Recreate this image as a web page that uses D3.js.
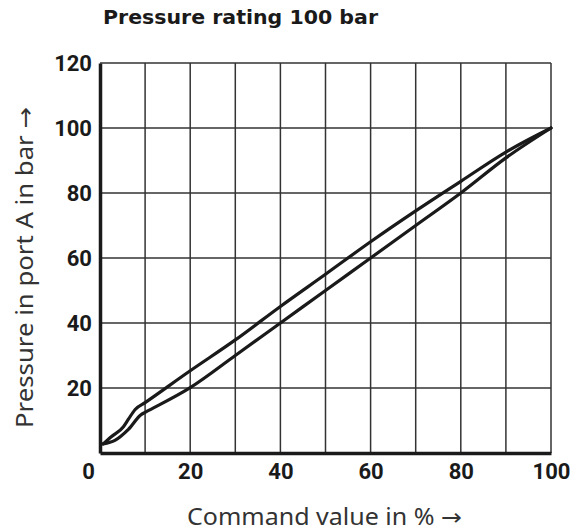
<!DOCTYPE html>
<html>
<head>
<meta charset="utf-8">
<script src="https://cdn.jsdelivr.net/npm/d3@7"></script>
<style>
  body { margin: 0; background: #fff; }
  svg { display: block; }
</style>
</head>
<body>
<div id="chart"></div>
<script>
// chart values
const xTicks = [0, 20, 40, 60, 80, 100]
const yTicks = [20, 40, 60, 80, 100, 120]
const upperCmd = [0.7, 2.5, 5.2, 6.3, 7.8, 10, 20, 30, 40, 50, 60, 70, 80, 90, 100]
const upperBar = [2.8, 5.0, 8.1, 10.4, 13.4, 15.5, 25.3, 34.8, 45.1, 55, 65, 74.5, 83.6, 92.6, 100]
const lowerCmd = [0.7, 3.3, 6.3, 9.2, 10, 20, 30, 40, 50, 60, 70, 80, 90, 100]
const lowerBar = [2.8, 3.9, 7.3, 11.9, 12.5, 20.1, 30, 40, 50, 60, 70, 80, 90.8, 100]

const title = 'Pressure rating 100 bar'
const xTitle = 'Command value in % '
const yTitle = 'Pressure in port A in bar '
const arrow = '\u2192'

const width = 578
const height = 532
const padding = { top: 63, right: 27, bottom: 79, left: 100 }
const tickFont = '"Liberation Sans Narrow", "Arial Narrow", Roboto, sans-serif'

const svg = d3.select('#chart').append('svg').attr('width', width).attr('height', height)

const xScale = d3.scaleLinear()
  .domain([0, 100])
  .range([padding.left, width - padding.right])
const yScale = d3.scaleLinear()
  .domain([0, 120])
  .range([height - padding.bottom, padding.top])

// grid
const grid = svg.append('g').attr('stroke', '#333').attr('stroke-width', 1.5)
grid.selectAll('.vg')
  .data(d3.range(10, 101, 10))
  .enter()
  .append('line')
  .attr('x1', d => xScale(d)).attr('x2', d => xScale(d))
  .attr('y1', yScale(0)).attr('y2', yScale(120))
grid.selectAll('.hg')
  .data(yTicks)
  .enter()
  .append('line')
  .attr('x1', xScale(0)).attr('x2', xScale(100))
  .attr('y1', d => yScale(d)).attr('y2', d => yScale(d))

// curves
const line = d3.line()
  .x(d => xScale(d[0]))
  .y(d => yScale(d[1]))
  .curve(d3.curveMonotoneX)

const upperData = upperCmd.map((c, i) => [c, upperBar[i]])
const lowerData = lowerCmd.map((c, i) => [c, lowerBar[i]])

svg.append('g')
  .selectAll('path')
  .data([upperData, lowerData])
  .enter()
  .append('path')
  .attr('fill', 'none')
  .attr('stroke', '#1a1a1a')
  .attr('stroke-width', 3.2)
  .attr('stroke-linejoin', 'round')
  .attr('stroke-linecap', 'round')
  .attr('d', d => line(d))

// thick left and bottom axes
const xAxis = svg.append('g')
  .attr('transform', 'translate(0,' + yScale(0) + ')')
  .call(d3.axisBottom(xScale).tickValues(xTicks).tickSize(0).tickPadding(10))
xAxis.select('.domain').attr('stroke', '#1a1a1a').attr('stroke-width', 3.5)
xAxis.selectAll('text')
  .attr('font-family', tickFont)
  .attr('font-weight', 'bold')
  .attr('font-size', 22)
  .attr('fill', '#1a1a1a')
  .attr('dx', d => d === 0 ? -12 : 0)

const yAxis = svg.append('g')
  .attr('transform', 'translate(' + xScale(0) + ',0)')
  .call(d3.axisLeft(yScale).tickValues(yTicks).tickSize(0).tickPadding(8))
yAxis.select('.domain').attr('stroke', '#1a1a1a').attr('stroke-width', 3.5)
yAxis.selectAll('text')
  .attr('font-family', tickFont)
  .attr('font-weight', 'bold')
  .attr('font-size', 22)
  .attr('fill', '#1a1a1a')

// titles
svg.append('text')
  .attr('x', 103)
  .attr('y', 24)
  .attr('font-family', '"DejaVu Sans", sans-serif')
  .attr('font-weight', 'bold')
  .attr('font-size', 20)
  .attr('fill', '#1a1a1a')
  .attr('textLength', 275)
  .attr('lengthAdjust', 'spacingAndGlyphs')
  .text(title)

const xt = svg.append('text')
  .attr('x', 187)
  .attr('y', 525)
  .attr('font-family', '"Noto Sans", sans-serif')
  .attr('font-size', 23)
  .attr('fill', '#333')
  .attr('textLength', 275)
  .attr('lengthAdjust', 'spacingAndGlyphs')
xt.append('tspan').text(xTitle)
xt.append('tspan').attr('font-family', '"DejaVu Sans", sans-serif').text(arrow)

const yt = svg.append('text')
  .attr('transform', 'translate(33,428) rotate(-90)')
  .attr('font-family', '"Noto Sans", sans-serif')
  .attr('font-size', 23)
  .attr('fill', '#333')
  .attr('textLength', 321)
  .attr('lengthAdjust', 'spacingAndGlyphs')
yt.append('tspan').text(yTitle)
yt.append('tspan').attr('font-family', '"DejaVu Sans", sans-serif').text(arrow)
</script>
</body>
</html>
